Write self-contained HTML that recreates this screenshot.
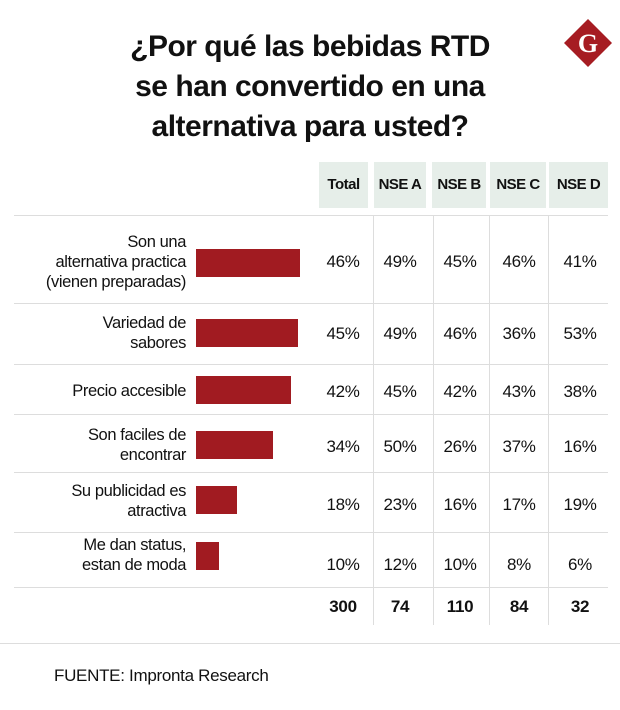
<!DOCTYPE html>
<html><head><meta charset="utf-8"><style>
body{margin:0;width:620px;height:710px;background:#fff;position:relative;overflow:hidden;font-family:"Liberation Sans",sans-serif;color:#111}
.abs{position:absolute}
.title{left:0;width:620px;text-align:center;font-weight:bold;font-size:30px;letter-spacing:-0.5px;line-height:40px;top:27px}
.hdr{background:#e6eee9;top:162px;height:46px;line-height:46px;text-align:center;font-weight:bold;font-size:15px;letter-spacing:-0.5px}
.lbl{right:434px;text-align:right;font-size:16.5px;line-height:20px;letter-spacing:-0.4px}
.val{font-size:17px;line-height:22px;text-align:center;width:56px;letter-spacing:-0.3px}
.hl{left:14px;width:594px;height:1px;background:#ddd}
.vl{width:1px;background:#ddd;top:215px;height:410px}
</style></head><body>
<div class="abs title">¿Por qué las bebidas RTD<br>se han convertido en una<br>alternativa para usted?</div>
<svg class="abs" style="left:564px;top:19px" width="48" height="48"><polygon points="24,0 48,24 24,48 0,24" fill="#a61c22"/><text x="24" y="33" text-anchor="middle" font-family="Liberation Serif,serif" font-weight="bold" font-size="26" fill="#fff">G</text></svg>
<div id="tbl"></div>
<div class="abs" style="left:0;top:643px;width:620px;height:1px;background:#ddd"></div>
<div class="abs" style="left:54px;top:666px;font-size:17px;letter-spacing:-0.3px">FUENTE: Impronta Research</div>
<script>
const categories=["Son una<br>alternativa practica<br>(vienen preparadas)","Variedad de<br>sabores","Precio accesible","Son faciles de<br>encontrar","Su publicidad es<br>atractiva","Me dan status,<br>estan de moda"];
const groups=["Total","NSE A","NSE B","NSE C","NSE D"];
const total=[46,45,42,34,18,10];
const nseA=[49,49,45,50,23,12];
const nseB=[45,46,42,26,16,10];
const nseC=[46,36,43,37,17,8];
const nseD=[41,53,38,16,19,6];
const counts=[300,74,110,84,32];
const series=[total,nseA,nseB,nseC,nseD];
const T=document.getElementById('tbl');
const colL=[319,374,432,490,549],colW=[49,52,54,56,59],colC=[343,400,460,519,580];
const rowBot=[303,364,414,472,532,587];
const barCenter=[263,333,390,445,500,556];
const valCenter=[262,334,392,447,505,565];
const lblCenter=[262,333,391,445,501,555];
const xScale=v=>v*2.26;
function mk(cls,name,css,html){const d=document.createElement('div');d.className='abs '+cls;


d.style.cssText=css;if(html!=null)d.innerHTML=html;T.appendChild(d);return d;}
groups.forEach((g,i)=>mk('hdr','header-'+g.toLowerCase().replace(' ','-'),`left:${colL[i]}px;width:${colW[i]}px`,g));
mk('hl','row-rule',`top:215px`);
[433,489,548,373].forEach(x=>mk('vl','column-rule',`left:${x}px`));
categories.forEach((c,r)=>{
 mk('hl','row-rule',`top:${rowBot[r]}px`);
 const n=c.split('<br>').length;
 mk('lbl','row-label',`top:${lblCenter[r]-n*10}px`,c);
 mk('','bar-'+r,`left:196px;top:${barCenter[r]-14}px;height:28px;width:${xScale(total[r])}px;background:#a11b21`);
 series.forEach((s,i)=>mk('val','value',`left:${colC[i]-28}px;top:${valCenter[r]-11}px`,s[r]+'%'));
});
counts.forEach((v,i)=>mk('val','count',`left:${colC[i]-28}px;top:596px;font-weight:bold`,v));
</script>
</body></html>
